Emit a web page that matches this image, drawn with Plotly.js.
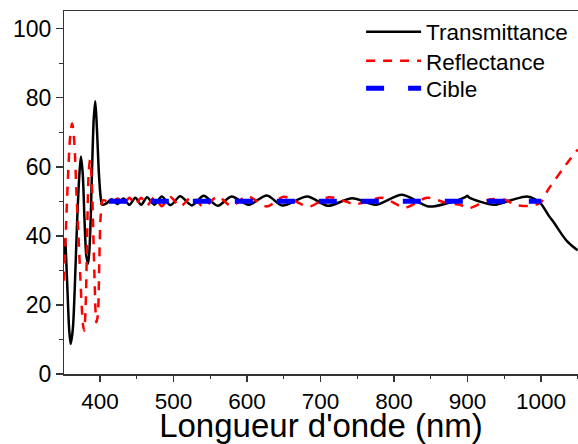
<!DOCTYPE html>
<html>
<head>
<meta charset="utf-8">
<script src="https://cdn.plot.ly/plotly-3.0.1.min.js"></script>
<style>html,body{margin:0;padding:0;background:#fff;}#chart{width:578px;height:444px;}</style>
</head>
<body>
<div id="chart"></div>
<script>
// Transmittance (black)
const transX = [351, 352.5, 355, 358, 360, 363, 366, 369, 372, 374, 376.5, 379, 381.5, 384, 386.5, 389, 391.5, 393.6, 396, 398.5, 401, 403, 408, 416, 424, 432, 440, 448, 456, 464, 474, 484, 496, 509, 525, 541, 560, 579, 602, 627, 648, 682, 710, 743, 775, 811, 847, 875, 897, 899.6, 903, 936, 960, 981, 992, 1000, 1010, 1018, 1028, 1036, 1045, 1050];
const transY = [33, 39, 28, 13, 8.7, 13, 27, 45, 58, 63, 58, 44, 34, 32, 40, 58, 74, 79, 70, 58, 51, 49, 49.3, 50.6, 49.2, 50.8, 49.0, 51.0, 49.0, 51.2, 49.0, 51.4, 48.9, 51.5, 48.8, 51.6, 48.7, 51.4, 49.0, 51.7, 48.8, 51.4, 48.7, 50.9, 49.0, 51.9, 48.5, 49.6, 51.2, 51.6, 51.0, 49.0, 50.4, 51.4, 50.6, 49.3, 46.0, 43.7, 40.5, 38.3, 36.6, 35.8];

// Reflectance (red)
const reflX = [351, 353, 356, 359.5, 362, 364, 366, 368, 370.5, 373, 375, 377, 378.5, 380.5, 382.5, 384.5, 386.5, 388.5, 390.5, 392.5, 395, 397, 399, 401, 404, 415, 424, 432, 440, 448, 456, 464, 474, 484, 496, 509, 525, 541, 560, 579, 600, 627, 650, 684, 712, 748, 784, 815, 845, 872, 890, 902, 930, 950, 965, 988, 1000, 1010, 1020, 1030, 1040, 1050];
const reflY = [27, 38, 55, 69, 72.5, 70, 63, 52, 41, 29, 20, 14, 12.5, 20, 40, 58, 62, 57, 44, 28, 15, 17, 32, 46, 50.3, 49.5, 50.8, 49.2, 51.0, 49.0, 51.0, 48.8, 51.2, 48.6, 51.2, 48.5, 51.3, 48.4, 51.4, 48.6, 51.5, 48.5, 51.3, 48.5, 51.2, 49.2, 51.0, 48.2, 51.0, 49.5, 49.0, 48.0, 50.5, 50.5, 49.0, 48.7, 49.8, 53.5, 56.5, 59.5, 62.3, 65];

// Target (blue)
const cibleX = [412, 1000];
const cibleY = [50, 50];

const xTicks = [400, 500, 600, 700, 800, 900, 1000];
const yTicks = [0, 20, 40, 60, 80, 100];

const font = "'Liberation Sans', Arial, sans-serif";

const traces = [
  {x: transX, y: transY, type: 'scatter', mode: 'lines', name: 'Transmittance', legend: 'legend',
   line: {color: '#000000', width: 2.5, shape: 'spline', smoothing: 0.8}},
  {x: reflX, y: reflY, type: 'scatter', mode: 'lines', name: 'Reflectance', legend: 'legend2',
   line: {color: '#ff0000', width: 2.5, dash: '9px,8px', shape: 'spline', smoothing: 0.8}},
  {x: cibleX, y: cibleY, type: 'scatter', mode: 'lines', name: 'Cible', legend: 'legend3',
   line: {color: '#0000ff', width: 5, dash: '18px,24px'}}
];

function leg(y) {
  return {x: 0.578, y: y, xanchor: 'left', yanchor: 'middle', bgcolor: 'rgba(0,0,0,0)',
          borderwidth: 0, font: {family: font, size: 22.5, color: '#000'}, itemwidth: 55};
}

const layout = {
  width: 578, height: 444,
  margin: {l: 64, r: 0, t: 11, b: 70, pad: 0},
  paper_bgcolor: '#ffffff', plot_bgcolor: '#ffffff',
  font: {family: font, color: '#000000', size: 23},
  showlegend: true,
  legend: leg(0.942),
  legend2: leg(0.862),
  legend3: leg(0.786),
  xaxis: {
    range: [351, 1050.3], tickmode: 'array', tickvals: xTicks, ticktext: xTicks.map(String),
    ticks: 'outside', ticklen: 6, tickwidth: 1.5, tickcolor: '#333',
    showline: true, linecolor: '#333', linewidth: 1.5, mirror: true,
    showgrid: false, zeroline: false, automargin: false,
    tickfont: {family: font, size: 22.5, color: '#000'},
    minor: {dtick: 50, tick0: 350, ticks: 'outside', ticklen: 3.5, tickwidth: 1.2, tickcolor: '#333', showgrid: false},
    title: {text: "Longueur d'onde (nm)", font: {family: font, size: 33, color: '#000'}, standoff: 0}
  },
  yaxis: {
    range: [0, 105.1], tickmode: 'array', tickvals: yTicks, ticktext: yTicks.map(String),
    ticks: 'outside', ticklen: 6.5, tickwidth: 1.5, tickcolor: '#333',
    showline: true, linecolor: '#333', linewidth: 1.5,
    showgrid: false, zeroline: false, automargin: false,
    tickfont: {family: font, size: 23, color: '#000'},
    minor: {dtick: 10, tick0: 0, ticks: 'outside', ticklen: 4, tickwidth: 1.2, tickcolor: '#333', showgrid: false}
  }
};

Plotly.newPlot('chart', traces, layout, {displayModeBar: false, staticPlot: true});
</script>
</body>
</html>
